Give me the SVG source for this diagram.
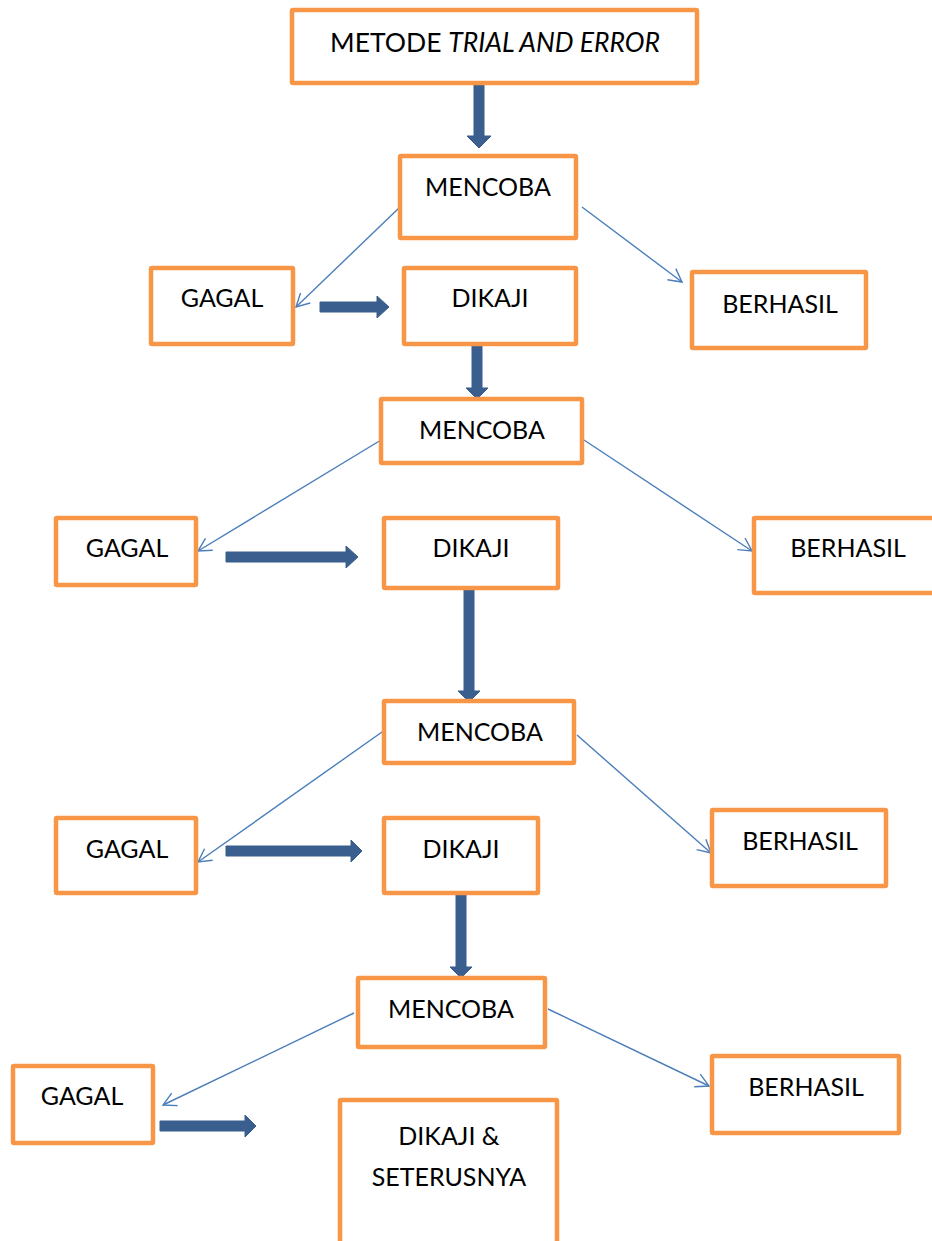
<svg xmlns="http://www.w3.org/2000/svg" width="932" height="1241" viewBox="0 0 932 1241">
<style>
.box{fill:#fff;stroke:#F79646;stroke-width:4.5}
.t{font-family:Lato,"Liberation Sans",sans-serif;font-size:25px;fill:#000;text-anchor:middle}
.thick{fill:#3A5F8F;stroke:#385D8A;stroke-width:1}
.thin{fill:none;stroke:#4A7EBB;stroke-width:1.4;marker-end:url(#open)}
</style>
<defs>
<marker id="open" markerUnits="userSpaceOnUse" markerWidth="20" markerHeight="20" viewBox="-16 -10 20 20" refX="0" refY="0" orient="auto">
<path d="M-13,-7 L0,0 L-13,7" fill="none" stroke="#4A7EBB" stroke-width="1.4"/>
</marker>
</defs>
<rect width="932" height="1241" fill="#fff"/>
<g id="connectors">
<path class="thick" d="M474,83 H484 V136 H491 L479,148 L467,136 H474 Z"/>
<path class="thick" d="M320,302 H377 V296 L389,307 L377,318 V312 H320 Z"/>
<path class="thick" d="M472,344 H482 V388 H488 L477,399 L466,388 H472 Z"/>
<path class="thick" d="M226,552 H346 V546 L358,557 L346,568 V562 H226 Z"/>
<path class="thick" d="M464,590 H474 V691 H480 L469,702 L458,691 H464 Z"/>
<path class="thick" d="M226,846 H351 V840 L362,851 L351,862 V856 H226 Z"/>
<path class="thick" d="M456,893 H466 V967 H472 L461,978 L450,967 H456 Z"/>
<path class="thick" d="M160,1121 H245 V1115 L256,1126 L245,1137 V1131 H160 Z"/>
<path class="thin" d="M400,207 L296,307"/>
<path class="thin" d="M582,207 L682,282"/>
<path class="thin" d="M381,440 L198,551"/>
<path class="thin" d="M584,440 L752,551"/>
<path class="thin" d="M382,732 L198,862"/>
<path class="thin" d="M577,735 L711,853"/>
<path class="thin" d="M354,1013 L163,1105"/>
<path class="thin" d="M548,1009 L709,1086"/>
</g>
<g id="n-metode"><rect class="box" x="292" y="10" width="405" height="73" rx="1"/><text class="t" x="495" y="52" style="font-size:26.5px">METODE <tspan font-style="italic">TRIAL AND ERROR</tspan></text></g>
<g id="n-mencoba1"><rect class="box" x="400" y="156" width="176" height="82" rx="1"/><text class="t" x="488" y="196">MENCOBA</text></g>
<g id="n-gagal1"><rect class="box" x="151" y="268" width="142" height="76" rx="1"/><text class="t" x="222" y="307">GAGAL</text></g>
<g id="n-dikaji1"><rect class="box" x="404" y="268" width="172" height="76" rx="1"/><text class="t" x="490" y="307">DIKAJI</text></g>
<g id="n-berhasil1"><rect class="box" x="692" y="272" width="174" height="76" rx="1"/><text class="t" x="780" y="313">BERHASIL</text></g>
<g id="n-mencoba2"><rect class="box" x="381" y="399" width="201" height="64" rx="1"/><text class="t" x="482" y="439">MENCOBA</text></g>
<g id="n-gagal2"><rect class="box" x="56" y="518" width="140" height="67" rx="1"/><text class="t" x="127" y="557">GAGAL</text></g>
<g id="n-dikaji2"><rect class="box" x="384" y="518" width="174" height="70" rx="1"/><text class="t" x="471" y="557">DIKAJI</text></g>
<g id="n-berhasil2"><rect class="box" x="754" y="518" width="200" height="75" rx="1"/><text class="t" x="848" y="557">BERHASIL</text></g>
<g id="n-mencoba3"><rect class="box" x="384" y="701" width="190" height="62" rx="1"/><text class="t" x="480" y="741">MENCOBA</text></g>
<g id="n-gagal3"><rect class="box" x="56" y="818" width="140" height="75" rx="1"/><text class="t" x="127" y="858">GAGAL</text></g>
<g id="n-dikaji3"><rect class="box" x="384" y="818" width="154" height="75" rx="1"/><text class="t" x="461" y="858">DIKAJI</text></g>
<g id="n-berhasil3"><rect class="box" x="712" y="810" width="174" height="76" rx="1"/><text class="t" x="800" y="850">BERHASIL</text></g>
<g id="n-mencoba4"><rect class="box" x="358" y="978" width="187" height="69" rx="1"/><text class="t" x="451" y="1018">MENCOBA</text></g>
<g id="n-gagal4"><rect class="box" x="13" y="1066" width="140" height="77" rx="1"/><text class="t" x="82" y="1105">GAGAL</text></g>
<g id="n-berhasil4"><rect class="box" x="712" y="1056" width="187" height="77" rx="1"/><text class="t" x="806" y="1096">BERHASIL</text></g>
<g id="n-dikaji4"><rect class="box" x="340" y="1100" width="217" height="160" rx="1"/><text class="t" x="449" y="1145">DIKAJI &amp;</text><text class="t" x="449" y="1186">SETERUSNYA</text></g>
</svg>
